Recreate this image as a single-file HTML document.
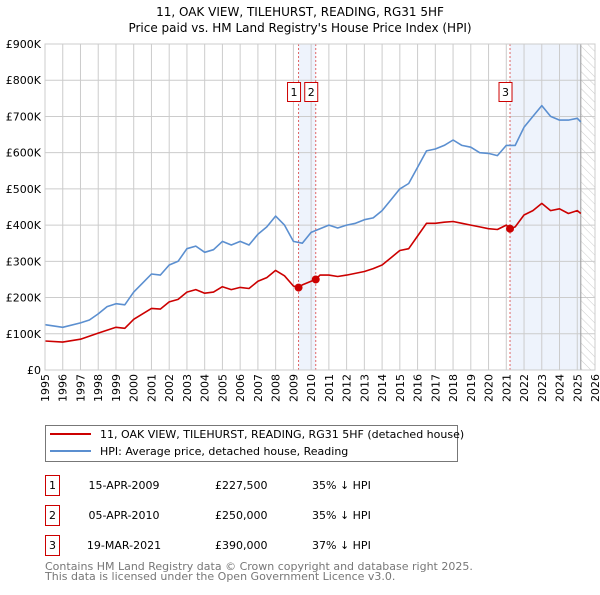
<!DOCTYPE html>
<html><head><meta charset="utf-8"><style>
body{margin:0;background:#fff;font-family:"Liberation Sans","DejaVu Sans",sans-serif;}
svg text{font-family:"DejaVu Sans","Liberation Sans",sans-serif;}
</style></head><body>
<svg width="600" height="590" xmlns="http://www.w3.org/2000/svg">
<defs><pattern id="hatch" width="6" height="6" patternUnits="userSpaceOnUse" patternTransform="rotate(-45)"><line x1="0" y1="0" x2="0" y2="6" stroke="#ccc" stroke-width="1"/></pattern></defs>
<text x="300" y="16" text-anchor="middle" font-size="12">11, OAK VIEW, TILEHURST, READING, RG31 5HF</text>
<text x="300" y="32" text-anchor="middle" font-size="12">Price paid vs. HM Land Registry's House Price Index (HPI)</text>
<g id="plot"></g>
<g>
<rect x="45.5" y="425.5" width="412" height="36" fill="#fff" stroke="#777"/>
<line x1="50" y1="434" x2="91" y2="434" stroke="#cc0000" stroke-width="2"/>
<text x="100" y="438" font-size="11">11, OAK VIEW, TILEHURST, READING, RG31 5HF (detached house)</text>
<line x1="50" y1="451" x2="91" y2="451" stroke="#5b8fd0" stroke-width="2"/>
<text x="100" y="455" font-size="11">HPI: Average price, detached house, Reading</text>
</g>
<g font-size="11">
<rect x="45.5" y="475.5" width="14" height="20" fill="none" stroke="#cc0000"/><text x="52.5" y="489" text-anchor="middle">1</text>
<text x="124" y="489" text-anchor="middle">15-APR-2009</text><text x="215" y="489">£227,500</text><text x="312" y="489">35% ↓ HPI</text>
<rect x="45.5" y="505.5" width="14" height="20" fill="none" stroke="#cc0000"/><text x="52.5" y="519" text-anchor="middle">2</text>
<text x="124" y="519" text-anchor="middle">05-APR-2010</text><text x="215" y="519">£250,000</text><text x="312" y="519">35% ↓ HPI</text>
<rect x="45.5" y="535.5" width="14" height="20" fill="none" stroke="#cc0000"/><text x="52.5" y="549" text-anchor="middle">3</text>
<text x="124" y="549" text-anchor="middle">19-MAR-2021</text><text x="215" y="549">£390,000</text><text x="312" y="549">37% ↓ HPI</text>
</g>
<text x="45" y="570" font-size="11" fill="#777">Contains HM Land Registry data © Crown copyright and database right 2025.</text>
<text x="45" y="580" font-size="11" fill="#777">This data is licensed under the Open Government Licence v3.0.</text>
</svg>
<script>
const hpiYears=[1995,1996,1997,1997.5,1998,1998.5,1999,1999.5,2000,2000.5,2001,2001.5,2002,2002.5,2003,2003.5,2004,2004.5,2005,2005.5,2006,2006.5,2007,2007.5,2008,2008.5,2009,2009.5,2010,2010.5,2011,2011.5,2012,2012.5,2013,2013.5,2014,2014.5,2015,2015.5,2016,2016.5,2017,2017.5,2018,2018.5,2019,2019.5,2020,2020.5,2021,2021.5,2022,2022.5,2023,2023.5,2024,2024.5,2025,2025.2];
const hpiValues=[125,118,130,138,155,175,183,180,215,240,265,262,290,300,335,342,325,332,355,345,355,345,375,395,425,400,355,350,380,390,400,392,400,405,415,420,440,470,500,515,560,605,610,620,635,620,615,600,598,592,620,620,670,700,730,700,690,690,695,685];
const propYears=[1995,1996,1997,1998,1999,1999.5,2000,2001,2001.5,2002,2002.5,2003,2003.5,2004,2004.5,2005,2005.5,2006,2006.5,2007,2007.5,2008,2008.5,2009,2009.29,2009.5,2010.26,2010.5,2011,2011.5,2012,2013,2013.5,2014,2014.5,2015,2015.5,2016,2016.5,2017,2017.5,2018,2018.5,2019,2019.5,2020,2020.5,2021,2021.21,2021.5,2022,2022.5,2023,2023.5,2024,2024.5,2025,2025.2];
const propValues=[80,77,85,102,118,115,140,170,168,188,195,215,222,212,215,230,222,228,225,245,255,275,260,232,227.5,235,250,262,262,258,262,272,280,290,310,330,335,370,405,405,408,410,405,400,395,390,388,400,390,395,428,440,460,440,445,432,440,432];
const saleYears=[2009.29,2010.26,2021.21];
const saleValues=[227.5,250,390];
const saleLabels=["1","2","3"];
const yTicks=[0,100,200,300,400,500,600,700,800,900];
const yTickLabels=["£0","£100K","£200K","£300K","£400K","£500K","£600K","£700K","£800K","£900K"];
const xTicks=[1995,1996,1997,1998,1999,2000,2001,2002,2003,2004,2005,2006,2007,2008,2009,2010,2011,2012,2013,2014,2015,2016,2017,2018,2019,2020,2021,2022,2023,2024,2025,2026];
const dataEnd=2025.2;

const L=45,R=595,T=44,B=370;
const x=v=>L+(v-1995)/(2026-1995)*(R-L);
const y=v=>B-v/900*(B-T);
const NS="http://www.w3.org/2000/svg";
const g=document.getElementById('plot');
function mk(t,a){const e=document.createElementNS(NS,t);for(const k in a)e.setAttribute(k,a[k]);g.appendChild(e);return e;}
let e;
e=mk('rect',{x:x(saleYears[0]),y:T,width:x(saleYears[1])-x(saleYears[0]),height:B-T,fill:'#eef3fc'});


e=mk('rect',{x:x(saleYears[2]),y:T,width:x(dataEnd)-x(saleYears[2]),height:B-T,fill:'#eef3fc'});


e=mk('rect',{x:x(dataEnd),y:T,width:R-x(dataEnd),height:B-T,fill:'url(#hatch)'});


yTicks.forEach((t,i)=>{
 e=mk('line',{x1:L,x2:R,y1:y(t),y2:y(t),stroke:'#ccc','stroke-width':1});
 
 
 e=mk('text',{x:L-4,y:y(t)+4,'text-anchor':'end','font-size':11});
 e.textContent=yTickLabels[i];
 
 
});
xTicks.forEach(t=>{
 e=mk('line',{x1:x(t),x2:x(t),y1:T,y2:B,stroke:'#ccc','stroke-width':1});
 
 
 e=mk('text',{x:0,y:0,'text-anchor':'end','font-size':11,transform:`translate(${x(t)+4},${B+4}) rotate(-90)`});
 e.textContent=t;
 
 
});
e=mk('line',{x1:x(dataEnd),x2:x(dataEnd),y1:T,y2:B,stroke:'#999','stroke-width':1});


saleYears.forEach(s=>{
 e=mk('line',{x1:x(s),x2:x(s),y1:T,y2:B,stroke:'#e06666','stroke-width':1,'stroke-dasharray':'2,2'});
 
 
});
function path(xs,vs,col,name){
 const d=xs.map((v,i)=>(i?'L':'M')+x(v).toFixed(1)+','+y(vs[i]).toFixed(1)).join('');
 e=mk('path',{d:d,fill:'none',stroke:col,'stroke-width':1.6,'stroke-linejoin':'round'});
 
 
}
path(hpiYears,hpiValues,'#5b8fd0','hpi-line');
path(propYears,propValues,'#cc0000','property-line');
saleYears.forEach((s,i)=>{
 e=mk('circle',{cx:x(s),cy:y(saleValues[i]),r:4,fill:'#cc0000'});
 
 
 const bx=x(s)-4.5;
 e=mk('rect',{x:bx-6.5,y:82.5,width:13,height:19,fill:'#fff',stroke:'#cc0000'});
 
 
 e=mk('text',{x:bx,y:96,'text-anchor':'middle','font-size':11});
 e.textContent=saleLabels[i];
 
 
});
e=mk('rect',{x:L,y:T,width:R-L,height:B-T,fill:'none',stroke:'#ccc'});


</script>
</body></html>
